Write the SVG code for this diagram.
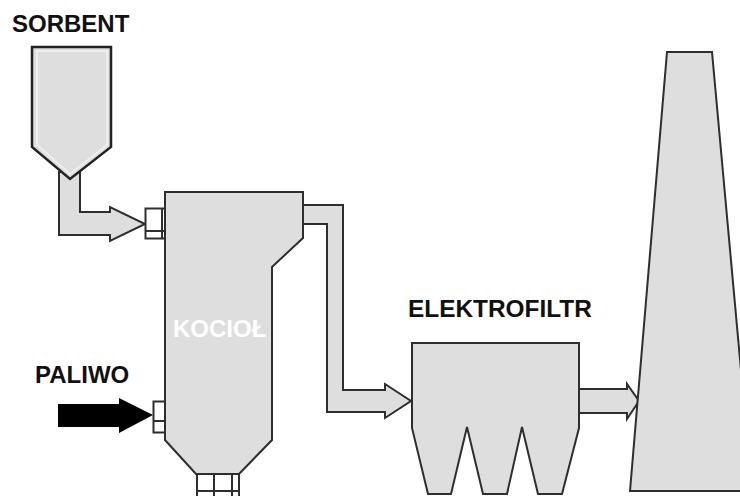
<svg xmlns="http://www.w3.org/2000/svg" width="740" height="496" viewBox="0 0 740 496">
<style>
.s{fill:#dedede;stroke:#2e2e2e;stroke-width:2;stroke-linejoin:miter}
.n{fill:none;stroke:#2e2e2e;stroke-width:2}
text{font-family:"Liberation Sans",Arial,sans-serif;font-weight:bold;font-size:24px;fill:#111}
</style>
<rect width="740" height="496" fill="#fff"/>
<g id="connectors">
<path class="s" d="M59 172V235H110V241L145 224L110 207V212H80V172Z"/>
<path class="s" d="M303 205H343V390H385V384L411 401L385 418V412H327V224H303Z"/>
<path class="s" d="M579 389H627V384L639 401L627 419V413H579Z"/>
<path d="M58 404H119V398L153 415L119 433V427H58Z" fill="#000"/>
</g>
<g id="sorbent">
<path d="M32 47H111V147L70 179L32 147Z" fill="#dedede" stroke="#222" stroke-width="2.500"/>
<path d="M37 51H107V145L70 174L37 145Z" fill="none" stroke="#eee" stroke-width="2"/>
<text x="12" y="32">SORBENT</text>
</g>
<g id="kociol">
<rect x="145.500" y="208.500" width="20" height="30" fill="#fff" stroke="#2e2e2e" stroke-width="2"/>
<path class="n" d="M145 231H165M162 208V238"/>
<rect x="153.500" y="401.500" width="12" height="31" fill="#fff" stroke="#2e2e2e" stroke-width="2"/>
<path class="n" d="M153 421H165"/>
<path class="n" d="M197 474V496M214 474V496M232 474V496M239 474V496M197 491H239"/>
<path class="s" d="M165 192H303V238L272 267V440L239 474H196L165 440Z"/>
<text x="173" y="337" style="fill:#fff">KOCIOŁ</text>
</g>
<g id="elektrofiltr">
<path class="s" d="M412 343H579V428L562 494H538L522 427L507 494H483L467 427L451 494H428L412 428Z"/>
<text x="408" y="317" style="font-size:24.400px">ELEKTROFILTR</text>
</g>
<g id="komin">
<path class="s" d="M667 52H712L752 491H630Z"/>
</g>
<g id="paliwo">
<text x="35" y="383">PALIWO</text>
</g>
</svg>
